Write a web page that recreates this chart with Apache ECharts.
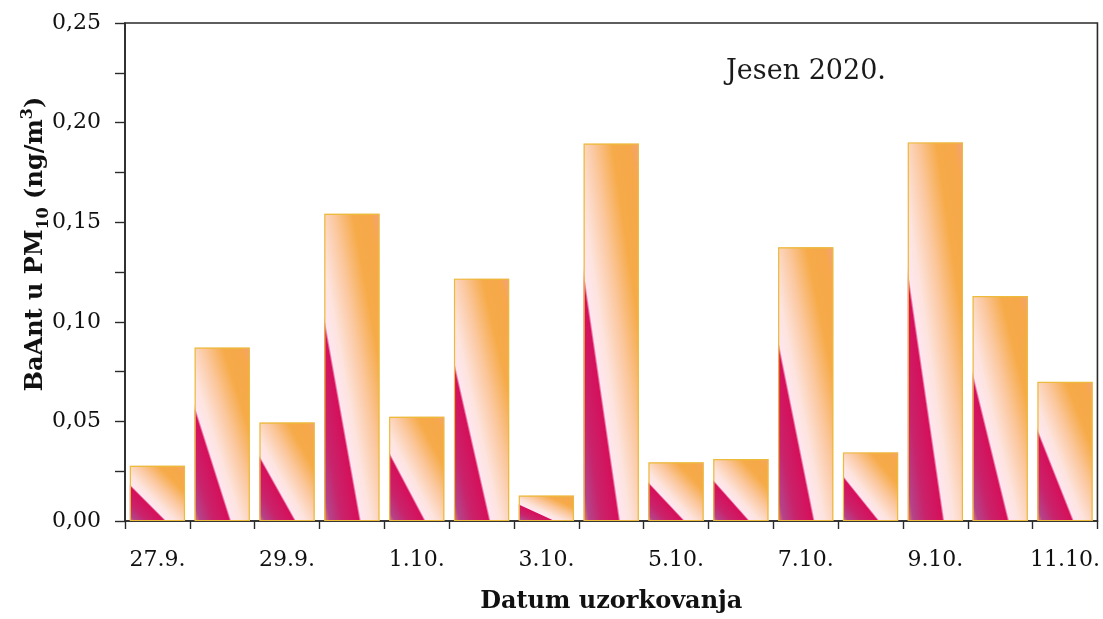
<!DOCTYPE html>
<html>
<head>
<meta charset="utf-8">
<script src="https://cdn.jsdelivr.net/npm/echarts@6/dist/echarts.min.js"></script>
<style>
  html, body { margin: 0; padding: 0; background: #fff; }
  #chart { width: 1103px; height: 619px; }
</style>
</head>
<body>
<div id="chart"></div>
<script>
// Sampling dates (autumn 2020)
const dates = ['27.9.', '28.9.', '29.9.', '30.9.', '1.10.', '2.10.', '3.10.', '4.10.',
               '5.10.', '6.10.', '7.10.', '8.10.', '9.10.', '10.10.', '11.10.'];
// BaAnt concentration in PM10, ng/m3
const baant = [0.0277, 0.0870, 0.0494, 0.1542, 0.0523, 0.1216, 0.0127, 0.1894,
               0.0294, 0.0311, 0.1374, 0.0344, 0.1900, 0.1129, 0.0698];
// Y axis range
const yMin = 0, yMax = 0.25, yStep = 0.05;

const FONT = '"DejaVu Serif", "Liberation Serif", serif';

// Colour stops of the diagonal fill, running from the bottom-left corner
// of a bar to its top-right corner.
const fillStops = [
  { offset: 0.00, color: '#e3885a' },
  { offset: 0.05, color: '#b4448a' },
  { offset: 0.16, color: '#c8246c' },
  { offset: 0.315, color: '#d60f5a' },
  { offset: 0.335, color: '#ffe6f0' },
  { offset: 0.42, color: '#fde4de' },
  { offset: 0.58, color: '#fbc8a0' },
  { offset: 0.76, color: '#f6aa48' },
  { offset: 0.92, color: '#f6a84a' },
  { offset: 1.00, color: '#f5a07e' }
];

const chart = echarts.init(document.getElementById('chart'), null, { renderer: 'canvas' });

function renderBar(params, api) {
  const idx = api.value(0);
  const val = api.value(1);
  const base = api.coord([idx, 0]);
  const top = api.coord([idx, val]);
  const band = api.size([1, 0])[0];
  const w = band * 0.85;
  const x = base[0] - w / 2;
  const yb = base[1];
  const h = yb - top[1];
  // Gradient whose iso-lines follow the bar's top-left -> bottom-right diagonal
  const ux = 1 / (2 * w), uy = -1 / (2 * h);
  const len2 = ux * ux + uy * uy;
  const vx = ux / len2, vy = uy / len2;
  const grad = new echarts.graphic.LinearGradient(x, yb, x + vx, yb + vy, fillStops, true);
  return {
    type: 'group',
    children: [
      {
        type: 'rect',
        shape: { x: x, y: top[1], width: w, height: h },
        style: { fill: grad }
      },
      {
        type: 'rect',
        shape: { x: x + 0.5, y: top[1] + 0.5, width: w - 1, height: h - 1 },
        style: { fill: null, stroke: '#ecbb3a', lineWidth: 1.2 }
      }
    ]
  };
}

const option = {
  backgroundColor: '#ffffff',
  animation: false,
  grid: {
    left: 125, right: 5, top: 23, bottom: 97,
    show: true, borderColor: '#2a2a2a', borderWidth: 1.6, backgroundColor: 'transparent'
  },
  xAxis: {
    type: 'category',
    data: dates,
    boundaryGap: true,
    name: 'Datum uzorkovanja',
    nameLocation: 'middle',
    nameGap: 69,
    nameMoveOverlap: false,
    nameTextStyle: { fontFamily: FONT, fontSize: 24, fontWeight: 'bold', color: '#111' },
    axisLine: { lineStyle: { color: '#2a2a2a', width: 1.6 } },
    axisTick: { show: true, interval: 0, alignWithLabel: false, length: 8, lineStyle: { color: '#2a2a2a', width: 1.4 } },
    axisLabel: { interval: 1, margin: 28, fontFamily: FONT, fontSize: 22, color: '#111' },
    splitLine: { show: false }
  },
  yAxis: {
    type: 'value',
    min: yMin, max: yMax, interval: yStep,
    name: '{a|BaAnt u PM}{sub|10}{a| (ng/m}{sup|3}{a|)}',
    nameLocation: 'middle',
    nameGap: 73,
    nameRotate: 90,
    nameMoveOverlap: false,
    nameTextStyle: {
      padding: [0, 0, 0, 56],
      rich: {
        a: { fontFamily: FONT, fontSize: 24, fontWeight: 'bold', color: '#111', lineHeight: 32 },
        sub: { fontFamily: FONT, fontSize: 16, fontWeight: 'bold', color: '#111', lineHeight: 17, verticalAlign: 'bottom' },
        sup: { fontFamily: FONT, fontSize: 16, fontWeight: 'bold', color: '#111', lineHeight: 17, verticalAlign: 'top' }
      }
    },
    axisLine: { show: true, lineStyle: { color: '#2a2a2a', width: 1.6 } },
    axisTick: { show: true, inside: false, length: 10, lineStyle: { color: '#2a2a2a', width: 1.4 } },
    minorTick: { show: true, splitNumber: 2, length: 10, lineStyle: { color: '#2a2a2a', width: 1.4 } },
    axisLabel: {
      margin: 24, fontFamily: FONT, fontSize: 22, color: '#111',
      formatter: v => v.toFixed(2).replace('.', ',')
    },
    splitLine: { show: false }
  },
  graphic: [
    {
      type: 'text',
      x: 806, y: 72,
      style: {
        text: 'Jesen 2020.',
        font: '27px ' + FONT,
        fill: '#1a1a1a',
        align: 'center',
        verticalAlign: 'middle'
      }
    }
  ],
  series: [
    {
      type: 'custom',
      name: 'BaAnt',
      renderItem: renderBar,
      encode: { x: 0, y: 1 },
      data: baant.map((v, i) => [i, v])
    }
  ]
};

chart.setOption(option);
</script>
</body>
</html>
